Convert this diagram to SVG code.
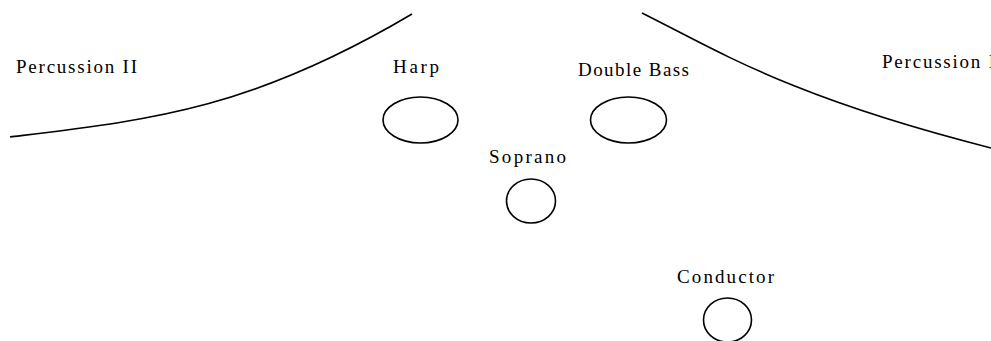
<svg xmlns="http://www.w3.org/2000/svg" width="991" height="341" viewBox="0 0 991 341">
<style>
text{font-family:'Liberation Serif','DejaVu Serif',serif;font-size:19px;fill:#000}
.s{fill:none;stroke:#000;stroke-width:1.6}
</style>
<rect width="991" height="341" fill="#fff"/>
<g id="stage-lines">
<path class="s" d="M10,137 C150,120 250,110 412,14"/>
<path class="s" d="M642,13 C720,52 790,97 991,148"/>
</g>
<g id="percussion-2"><text x="16" y="73" textLength="121" lengthAdjust="spacing">Percussion II</text></g>
<g id="percussion-1"><text x="882" y="68" textLength="113" lengthAdjust="spacing">Percussion I</text></g>
<g id="harp"><text x="393" y="73" textLength="46" lengthAdjust="spacing">Harp</text><ellipse class="s" cx="420.5" cy="120" rx="37.5" ry="23"/></g>
<g id="double-bass"><text x="578" y="76" textLength="111" lengthAdjust="spacing">Double Bass</text><ellipse class="s" cx="628.5" cy="120" rx="38" ry="23"/></g>
<g id="soprano"><text x="489" y="163" textLength="77" lengthAdjust="spacing">Soprano</text><ellipse class="s" cx="531" cy="201" rx="24.5" ry="22"/></g>
<g id="conductor"><text x="677" y="283" textLength="97" lengthAdjust="spacing">Conductor</text><ellipse class="s" cx="727.5" cy="320" rx="24" ry="22"/></g>
<g id="connectors"/>
</svg>
